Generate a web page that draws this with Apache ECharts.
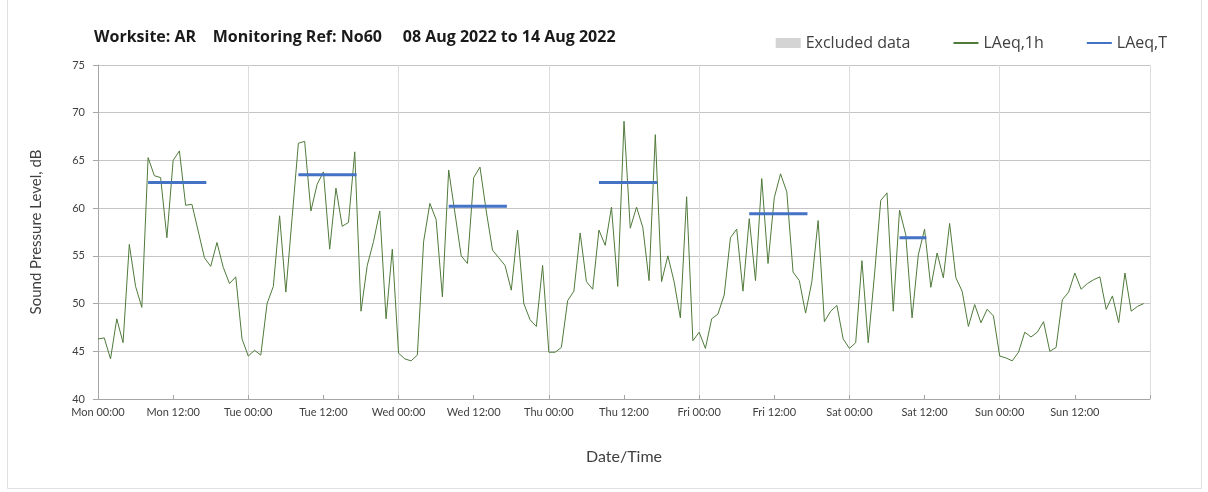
<!DOCTYPE html>
<html lang="en">
	<head>
		<meta charset="utf-8" />
		<title>Sound Pressure Level - Worksite AR</title>
		<style>
			html, body { margin: 0; padding: 0; background: #fff; }
			#chart { width: 1208px; height: 492px; }
		</style>
	</head>
	<body>
		<div id="chart"></div>
		<script src="https://cdn.jsdelivr.net/npm/echarts@6/dist/echarts.min.js"></script>
		<script>
			//星期标签
			const dayNames = ['Mon', 'Tue', 'Wed', 'Thu', 'Fri', 'Sat', 'Sun'];
			//LAeq,1h 每小时数据，从 Mon 00:00 开始
			const lAeq1h = [
				46.3, 46.4, 44.2, 48.4, 45.9, 56.2, 51.8, 49.6, 65.3, 63.4, 63.2, 56.9, 65.0, 66.0, 60.3, 60.4, 57.6, 54.8, 53.9, 56.4, 53.8, 52.1, 52.8, 46.3,
				44.5, 45.1, 44.6, 50.0, 51.8, 59.2, 51.2, 59.0, 66.8, 67.0, 59.7, 62.5, 63.8, 55.7, 62.1, 58.1, 58.5, 65.9, 49.2, 54.0, 56.5, 59.7, 48.4, 55.7,
				44.8, 44.2, 44.0, 44.6, 56.5, 60.5, 58.8, 50.7, 64.0, 59.5, 55.0, 54.2, 63.2, 64.3, 59.7, 55.6, 54.8, 54.0, 51.4, 57.7, 50.0, 48.3, 47.6, 54.0,
				44.9, 44.9, 45.4, 50.3, 51.3, 57.4, 52.3, 51.5, 57.7, 56.1, 60.1, 51.8, 69.1, 57.9, 60.1, 58.0, 52.4, 67.7, 52.3, 55.0, 52.3, 48.5, 61.2, 46.1,
				47.0, 45.3, 48.4, 48.9, 50.9, 56.9, 57.8, 51.3, 58.9, 52.4, 63.1, 54.2, 61.1, 63.6, 61.7, 53.3, 52.4, 49.0, 52.3, 58.7, 48.1, 49.2, 49.8, 46.3,
				45.3, 45.9, 54.5, 45.9, 53.0, 60.8, 61.6, 49.2, 59.8, 57.2, 48.5, 55.1, 57.8, 51.7, 55.3, 52.7, 58.4, 52.7, 51.3, 47.6, 49.9, 48.0, 49.4, 48.7,
				44.5, 44.3, 44.0, 44.9, 47.0, 46.5, 47.0, 48.1, 45.0, 45.4, 50.4, 51.2, 53.2, 51.5, 52.1, 52.5, 52.8, 49.4, 50.8, 48.0, 53.2, 49.2, 49.7, 50.0
			];
			//LAeq,T 时段：开始小时、结束小时、数值
			const periodStart = [8, 32, 56, 80, 104, 128];
			const periodEnd = [17.3, 41.3, 65.3, 89.3, 113.3, 132.3];
			const periodLevel = [62.7, 63.5, 60.2, 62.7, 59.4, 56.9];

			const chart = echarts.init(document.getElementById('chart'));

			//转换为 [小时, 数值]
			const hourlyData = lAeq1h.map(function(v, i) {
				return [i, v];
			});
			//各时段之间用 '-' 断开
			const periodData = [];
			for (let i = 0; i < periodStart.length; i++) {
				periodData.push([periodStart[i], periodLevel[i]]);
				periodData.push([periodEnd[i], periodLevel[i]]);
				periodData.push([periodEnd[i], '-']);
			}

			const fontFamily = 'Lato, "Open Sans", sans-serif';
			//图例只画线，不画圆点
			const noSymbol = { color: 'rgba(0,0,0,0)', borderColor: 'rgba(0,0,0,0)', borderWidth: 0 };

			const option = {
				animation: false,
				textStyle: { fontFamily: fontFamily },
				title: {
					text: 'Worksite: AR    Monitoring Ref: No60     08 Aug 2022 to 14 Aug 2022',
					left: 89,
					top: 24,
					textStyle: {
						fontSize: 16,
						fontWeight: 'bold',
						color: '#1a1a1a',
						fontFamily: '"Open Sans", sans-serif'
					}
				},
				legend: {
					right: 36,
					top: 30,
					itemWidth: 25,
					itemHeight: 10,
					itemGap: 42,
					textStyle: { fontSize: 16, color: '#404040', fontFamily: '"Open Sans", sans-serif' },
					data: [
						{ name: 'Excluded data', icon: 'rect' },
						{ name: 'LAeq,1h', itemStyle: noSymbol },
						{ name: 'LAeq,T', itemStyle: noSymbol }
					]
				},
				grid: {
					left: 98,
					right: 58,
					top: 65,
					bottom: 93
				},
				xAxis: [{
					type: 'value',
					min: 0,
					max: 168,
					interval: 12,
					name: 'Date/Time',
					nameLocation: 'middle',
					nameGap: 50,
					nameTextStyle: { fontSize: 16, color: '#404040' },
					axisLine: { lineStyle: { color: '#a6a6a6' } },
					axisTick: { show: true, inside: true, length: 4, lineStyle: { color: '#a6a6a6' } },
					axisLabel: {
						fontSize: 11,
						color: '#404040',
						margin: 8,
						formatter: function(v) {
							if (v >= 168) return '';
							return dayNames[Math.floor(v / 24)] + ' ' + (v % 24 === 0 ? '00:00' : '12:00');
						}
					},
					splitLine: { show: false }
				}, {
					//每天一条竖向网格线
					type: 'value',
					min: 0,
					max: 168,
					interval: 24,
					position: 'bottom',
					axisLine: { show: false },
					axisTick: { show: false },
					axisLabel: { show: false },
					splitLine: { show: true, lineStyle: { color: '#dcdcdc', width: 1 } }
				}],
				yAxis: {
					type: 'value',
					min: 40,
					max: 75,
					interval: 5,
					name: 'Sound Pressure Level, dB',
					nameLocation: 'middle',
					nameGap: 54,
					nameTextStyle: { fontSize: 15, color: '#404040' },
					axisLine: { show: true, lineStyle: { color: '#a6a6a6' } },
					axisTick: { show: true, length: 5, lineStyle: { color: '#a6a6a6' } },
					axisLabel: { fontSize: 11, color: '#404040', margin: 13 },
					splitLine: { lineStyle: { color: '#c4c4c4', width: 1 } }
				},
				series: [{
					name: 'Excluded data',
					type: 'bar',
					itemStyle: { color: '#d4d4d4' },
					data: []
				}, {
					name: 'LAeq,1h',
					type: 'line',
					symbol: 'none',
					lineStyle: { color: '#4f7a3a', width: 1 },
					itemStyle: { color: '#4f7a3a' },
					z: 3,
					data: hourlyData
				}, {
					name: 'LAeq,T',
					type: 'line',
					symbol: 'none',
					connectNulls: false,
					lineStyle: { color: '#4472c4', width: 3 },
					itemStyle: { color: '#4472c4' },
					z: 4,
					data: periodData
				}],
				graphic: [{
					//外框
					type: 'rect',
					shape: { x: 7.5, y: -5, width: 1194, height: 493.5 },
					style: { fill: 'none', stroke: '#e0e0e0', lineWidth: 1 },
					silent: true
				}]
			};

			chart.setOption(option);

			window.onresize = function() {
				chart.resize();
			};
		</script>
	</body>
</html>
